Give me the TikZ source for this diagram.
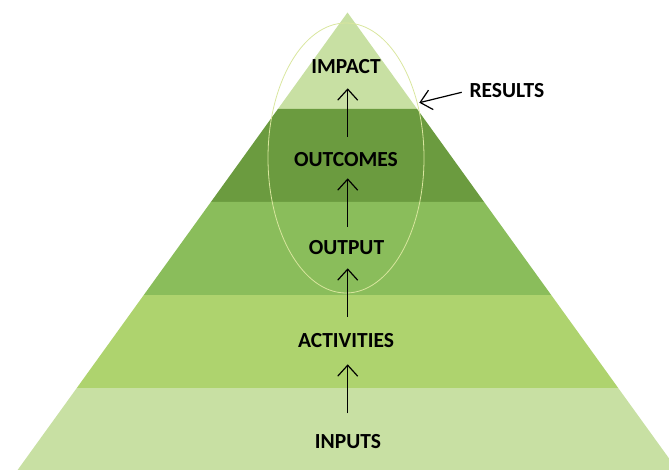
\documentclass[tikz,border=0pt]{standalone}
\usepackage{fontspec}
\setmainfont{Carlito}
\usetikzlibrary{arrows.meta}
\definecolor{bandlight}{HTML}{C8E0A3}
\definecolor{banddark}{HTML}{6B9B3F}
\definecolor{bandmid}{HTML}{8ABD5B}
\definecolor{bandact}{HTML}{AED36E}
\definecolor{ellcol}{HTML}{D9E69E}
\begin{document}
\begin{tikzpicture}[x=1pt,y=-1pt,
  lbl/.style={font=\bfseries\fontsize{21.5}{24}\selectfont, inner sep=0pt, anchor=base},
  flow/.style={line width=1.2pt, -{Straight Barb[length=11pt,width=20pt,line width=1.2pt]}}]
\useasboundingbox (0,0) rectangle (669,470);
\begin{scope}
\clip (0,0) rectangle (669,470);
% bands of the pyramid
\fill[bandlight] (347.5,12.5) -- (417.1,109) -- (277.9,109) -- cycle;
\fill[banddark] (277.9,109) -- (417.1,109) -- (484.1,202) -- (210.9,202) -- cycle;
\fill[bandmid] (210.9,202) -- (484.1,202) -- (551.2,295) -- (143.8,295) -- cycle;
\fill[bandact] (143.8,295) -- (551.2,295) -- (618.2,388) -- (76.8,388) -- cycle;
\fill[bandlight] (76.8,388) -- (618.2,388) -- (677.4,470) -- (17.6,470) -- cycle;
\end{scope}
% results ellipse
\draw[ellcol, line width=0.8pt] (346,158) ellipse [x radius=78pt, y radius=135pt];
% labels
\node[lbl] (impact) at (346,73.3) {IMPACT};
\node[lbl] (outcomes) at (346,166.7) {OUTCOMES};
\node[lbl] (output) at (346.5,255) {OUTPUT};
\node[lbl] (activities) at (346,347.3) {ACTIVITIES};
\node[lbl] (inputs) at (348,448.3) {INPUTS};
\node[lbl, anchor=base west] (results) at (469.3,97.7) {RESULTS};
% arrow end points
\coordinate (a1s) at (347.7,136.7); \coordinate (a1e) at (347.7,88.3);
\coordinate (a2s) at (347.7,226.7); \coordinate (a2e) at (347.7,178.3);
\coordinate (a3s) at (347.7,316.7); \coordinate (a3e) at (347.7,268.3);
\coordinate (a4s) at (347.7,413.3); \coordinate (a4e) at (347.7,364.3);
\coordinate (rs) at (461.7,92.3); \coordinate (re) at (419.3,102.7);
\draw[flow] (a1s) -- (a1e);
\draw[flow] (a2s) -- (a2e);
\draw[flow] (a3s) -- (a3e);
\draw[flow] (a4s) -- (a4e);
\draw[flow] (rs) -- (re);
\end{tikzpicture}
\end{document}
